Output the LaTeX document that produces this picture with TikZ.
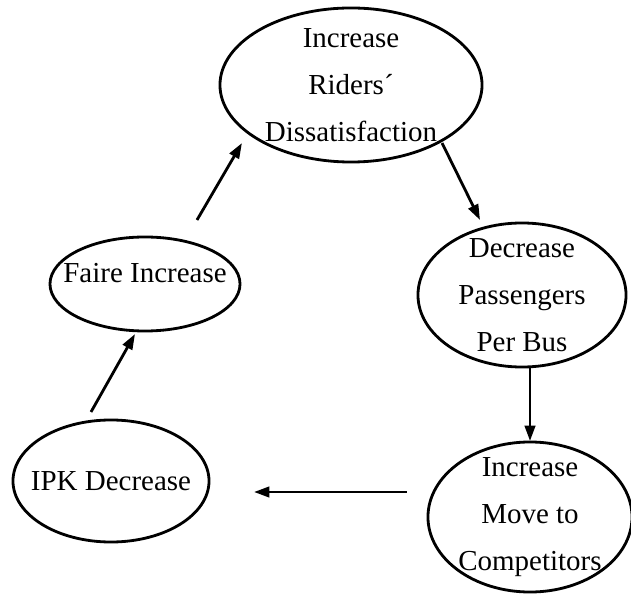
\documentclass[tikz,border=0pt]{standalone}
\usepackage{fontspec}
\setmainfont{Liberation Serif}
\usetikzlibrary{arrows.meta,shapes.geometric}
\tikzset{
	blob/.style={ellipse, draw, line width=2pt, inner sep=0pt, outer sep=0pt},
	lbl/.style={align=center, font=\fontsize{20.6}{33.4}\selectfont},
	link/.style={line width=2pt, -{Triangle[length=11pt,width=7.5pt]}}
}

\begin{document}
\begin{tikzpicture}[x=0.025cm, y=0.025cm]
		%%%%% START %%%%%
		\useasboundingbox (0, 0) rectangle (631, -596);
		
		\node[blob, minimum width=6.55cm, minimum height=3.85cm, label={[lbl]center:Increase\\Riders´\\Dissatisfaction}] (top) at (351, -85) {};
		\node[blob, minimum width=5.2cm, minimum height=3.6cm, label={[lbl]center:Decrease\\Passengers\\Per Bus}] (dec) at (522, -295) {};
		\node[blob, minimum width=5.1cm, minimum height=3.75cm, label={[lbl]center:Increase\\Move to\\Competitors}] (move) at (530, -517) {};
		\node[blob, minimum width=4.9cm, minimum height=3.05cm, label={[lbl]center:IPK Decrease}] (ipk) at (111, -481) {};
		\node[blob, minimum width=4.75cm, minimum height=2.35cm, label={[lbl, yshift=0.28cm]center:Faire Increase}] (faire) at (145, -284) {};
		
		\draw[link] ([shift={(-20, 8)}]ipk.north) -- ([shift={(-10, -3)}]faire.south);
		\draw[link] ([shift={(52, 17)}]faire.north) -- ([shift={(22, -58)}]top.west);
		\draw[link] ([shift={(-40, -58)}]top.east) -- ([shift={(-42, 3)}]dec.north);
		\draw[link] ([shift={(8, -1)}]dec.south) -- ([shift={(0, 1)}]move.north);
		\draw[link] ([shift={(-21, 25)}]move.west) -- ([shift={(45, -11)}]ipk.east);
		%%%%% END %%%%%
	\end{tikzpicture}
\end{document}
